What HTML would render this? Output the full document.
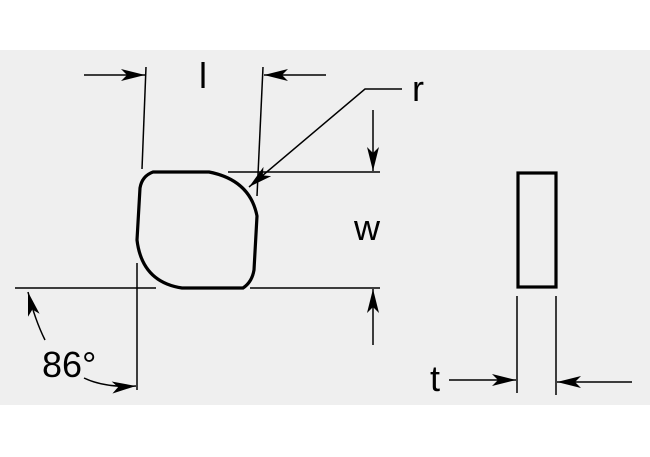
<!DOCTYPE html>
<html><head><style>html,body{margin:0;padding:0;background:#fff;width:650px;height:457px;overflow:hidden}</style></head>
<body>
<svg width="650" height="457" xmlns="http://www.w3.org/2000/svg" font-family="Liberation Sans, sans-serif">
<defs>
<marker id="a" viewBox="0 0 24 12" refX="24" refY="6" markerWidth="24" markerHeight="12" markerUnits="userSpaceOnUse" orient="auto">
<path d="M0,0 L24,6 L0,12 L6,6 Z" fill="#000"/></marker>
</defs>
<rect x="0" y="50" width="650" height="355" fill="#efefef"/>
<g stroke="#000" stroke-width="1.5" fill="none">
<line x1="84" y1="75" x2="145" y2="75" marker-end="url(#a)"/>
<line x1="146" y1="67" x2="142" y2="169"/>
<line x1="263" y1="67" x2="257" y2="196"/>
<line x1="326" y1="75" x2="264" y2="75" marker-end="url(#a)"/>
<polyline points="402,89 365,89 249,187" marker-end="url(#a)"/>
<line x1="228" y1="172" x2="380" y2="172"/>
<line x1="373" y1="110" x2="373" y2="171" marker-end="url(#a)"/>
<line x1="15" y1="288" x2="156" y2="288"/>
<line x1="250" y1="288" x2="380" y2="288"/>
<line x1="373" y1="345" x2="373" y2="289" marker-end="url(#a)"/>
<line x1="137" y1="263" x2="137" y2="390"/>
<path d="M45,340 Q35,320 28,292" marker-end="url(#a)"/>
<path d="M84,378 Q105,388 136,386" marker-end="url(#a)"/>
<line x1="517" y1="296" x2="517" y2="393"/>
<line x1="556" y1="296" x2="556" y2="395"/>
<line x1="449" y1="380" x2="516" y2="380" marker-end="url(#a)"/>
<line x1="632" y1="382" x2="557" y2="382" marker-end="url(#a)"/>
</g>
<path d="M153,172 L209,172 Q250,180 257,216 L254,270 Q252,282 243,288 L182,288 Q142,282 137,240 L140,188 Q142,176 153,172 Z" fill="none" stroke="#000" stroke-width="3.2" stroke-linejoin="round"/>
<rect x="518" y="173" width="38" height="114" fill="none" stroke="#000" stroke-width="3.2"/>
<g font-size="36" fill="#000">
<text x="199" y="88">l</text>
<text x="412" y="101">r</text>
<text x="354" y="240">w</text>
<text x="42" y="377">86°</text>
<text x="430" y="391">t</text>
</g>
</svg>
</body></html>
